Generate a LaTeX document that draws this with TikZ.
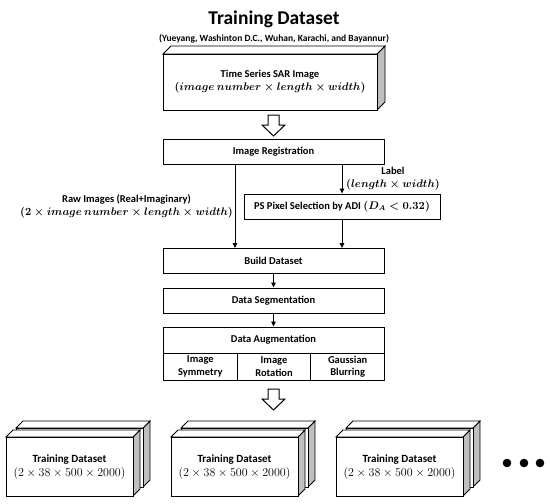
\documentclass[tikz,border=0pt]{standalone}
\usepackage{fontspec}
\setmainfont{Carlito}
\usetikzlibrary{arrows.meta}

\tikzset{
  box/.style={draw, line width=1pt, minimum width=221pt, minimum height=25pt, inner sep=0pt, font=\bfseries\fontsize{10.5}{12.5}\selectfont},
  cell/.style={draw, line width=1pt, minimum width=73.67pt, minimum height=27pt, inner sep=0pt, align=center, font=\bfseries\fontsize{10.5}{12.5}\selectfont},
  txt/.style={align=center, inner sep=0pt, font=\bfseries\fontsize{10.5}{13}\selectfont},
  arr/.style={-{Triangle[length=5pt,width=4.5pt]}, line width=0.9pt},
}

\newcommand{\slab}[5]{%
  \draw[line width=0.8pt, fill=lightgray] (#1+#3,#2) -- ++(#5,-#5) -- ++(0,#4) -- ++(-#5,#5) -- cycle;
  \draw[line width=0.8pt, fill=white] (#1,#2) -- ++(#5,-#5) -- ++(#3,0) -- ++(-#5,#5) -- cycle;
  \draw[line width=1pt, fill=white] (#1,#2) rectangle ++(#3,#4);
}
\newcommand{\blockarrow}[2]{%
  \draw[line width=1pt, fill=white] (#1-5.5,#2) -- (#1+5.5,#2) -- (#1+5.5,#2+10) -- (#1+11.5,#2+10)
    -- (#1,#2+21) -- (#1-11.5,#2+10) -- (#1-5.5,#2+10) -- cycle;
}

\begin{document}
\begin{tikzpicture}[x=1pt, y=-1pt]
  \useasboundingbox (0,0) rectangle (550,504);

  \node[font=\bfseries\fontsize{19.5}{22}\selectfont] (title) at (274,19) {Training Dataset};
  \node[font=\bfseries\fontsize{9.5}{11}\selectfont] (sites) at (274,38.5) {(Yueyang, Washinton D.C., Wuhan, Karachi, and Bayannur)};

  \slab{163}{54}{214}{56}{8}
  \node[txt] (sar) at (270,82) {Time Series SAR Image\\{\boldmath$(image\ number\times length\times width)$}};

  \blockarrow{273.5}{115}

  \node[box] (reg) at (273.5,152) {Image Registration};
  \node[box, minimum width=196pt] (ps) at (342,206.5) {PS Pixel Selection by ADI {\boldmath$(D_A<0.32)$}};
  \node[box] (build) at (273.5,261) {Build Dataset};
  \node[box] (seg) at (273.5,300.5) {Data Segmentation};
  \node[box, minimum height=26pt] (aug) at (273.5,340) {Data Augmentation};
  \node[cell] (sym) at (200.33,366.5) {Image\\Symmetry};
  \node[cell] (rot) at (274,366.5) {Image\\Rotation};
  \node[cell] (blur) at (347.67,366.5) {Gaussian\\Blurring};

  \coordinate (raw) at (235,0);
  \draw[arr] (reg.south -| raw) -- (build.north -| raw);
  \draw[arr] (reg.south -| ps) -- (ps.north);
  \draw[arr] (ps.south) -- (build.north -| ps);
  \draw[arr] (build) -- (seg);
  \draw[arr] (seg) -- (aug);

  \node[txt, anchor=west] (label) at (346,179) {Label\\{\boldmath$(length\times width)$}};
  \node[txt, anchor=east] (rawtxt) at (233,206) {Raw Images (Real+Imaginary)\\{\boldmath$(2\times image\ number\times length\times width)$}};

  \blockarrow{273.5}{389}

  \foreach \x in {6,171,336} {
    \slab{\x+10}{428}{127}{59}{7}
    \slab{\x}{437}{127}{59}{7}
    \node[txt, font=\bfseries\fontsize{11}{14}\selectfont] (set\x) at (\x+63.5,467) {Training Dataset\\{\fontsize{12}{14}\selectfont$(2\times38\times500\times2000)$}};
  }
  \foreach \x in {507,524,540}
    \fill (\x,463) circle (4.3pt);
\end{tikzpicture}
\end{document}
